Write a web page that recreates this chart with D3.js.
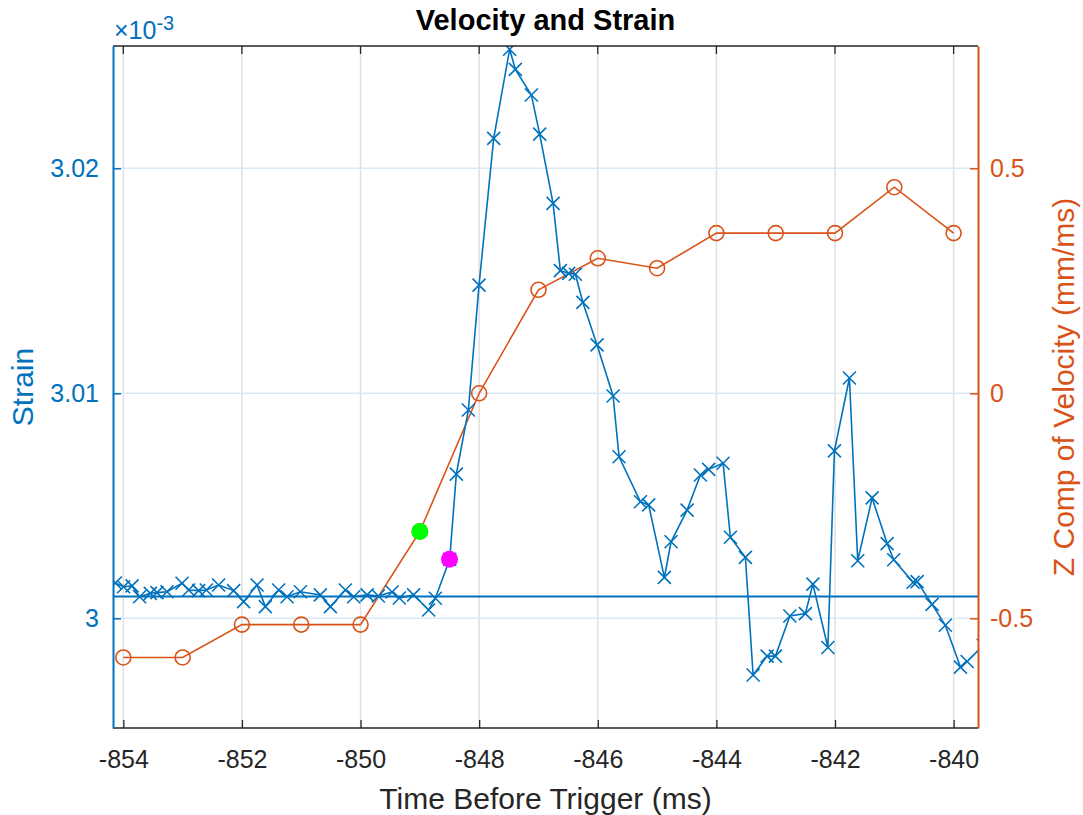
<!DOCTYPE html>
<html>
<head>
<meta charset="utf-8">
<script src="https://cdn.jsdelivr.net/npm/d3@7"></script>
<style>
  body { margin: 0; background: #fff; }
  text { font-family: "Liberation Sans", Arial, sans-serif; }
</style>
</head>
<body>
<script>
let w = 1083;
let h = 815;
let margin = { top: 46, right: 105, bottom: 87, left: 113 };

// strain samples (time in ms, strain in units of 1e-3)
let strainTime = [
  -854.135, -853.995, -853.853, -853.725, -853.545, -853.432, -853.263, -853.010,
  -852.899, -852.730, -852.600, -852.393, -852.140, -851.971, -851.745, -851.605,
  -851.381, -851.239, -851.015, -850.678, -850.509, -850.256, -850.116, -849.890,
  -849.700, -849.469, -849.346, -849.105, -848.852, -848.739, -848.497, -848.385,
  -848.182, -848.002, -847.755, -847.486, -847.390, -847.120, -846.980, -846.754,
  -846.631, -846.491, -846.378, -846.251, -846.012, -845.742, -845.641, -845.281,
  -845.142, -844.877, -844.764, -844.494, -844.270, -844.130, -843.887, -843.764,
  -843.511, -843.381, -843.145, -843.005, -842.761, -842.499, -842.373, -842.120,
  -842.010, -841.757, -841.617, -841.374, -841.121, -841.010, -840.683, -840.616,
  -840.363, -840.139, -839.885, -839.772, -839.500
];
let strainValue = [
  3.00157, 3.00140, 3.00144, 3.00096, 3.00111, 3.00114, 3.00118, 3.00156,
  3.00126, 3.00123, 3.00126, 3.00148, 3.00123, 3.00074, 3.00148, 3.00052,
  3.00126, 3.00096, 3.00118, 3.00104, 3.00052, 3.00126, 3.00096, 3.00104,
  3.00099, 3.00117, 3.00090, 3.00104, 3.00037, 3.00089, 3.00262, 3.00641,
  3.00926, 3.01481, 3.02133, 3.02529, 3.02440, 3.02326, 3.02152, 3.01844,
  3.01545, 3.01533, 3.01529, 3.01404, 3.01215, 3.00988, 3.00718, 3.00518,
  3.00504, 3.00182, 3.00340, 3.00481, 3.00637, 3.00662, 3.00689, 3.00360,
  3.00271, 2.99748, 2.99832, 2.99832, 3.00010, 3.00021, 3.00152, 2.99870,
  3.00744, 3.01068, 3.00256, 3.00535, 3.00332, 3.00260, 3.00160, 3.00163,
  3.00062, 2.99969, 2.99783, 2.99808, 2.99880
];

// velocity samples (mm/ms)
let velTime = [-854, -853, -852, -851, -850, -849, -848, -847, -846, -845, -844, -843, -842, -841, -840];
let velValue = [-0.587, -0.587, -0.514, -0.514, -0.514, -0.307, 0.0, 0.23, 0.30, 0.278, 0.356, 0.356, 0.356, 0.458, 0.356];

let baseline = 3.00097;
let greenPoint = { t: -849.0, v: -0.307 };
let magentaPoint = { t: -848.5, s: 3.00262 };

let xTicks = [-854, -852, -850, -848, -846, -844, -842, -840];
let yLeftTicks = [3.00, 3.01, 3.02];
let yRightTicks = [-0.5, 0, 0.5];

let blue = "#0072BD";
let orange = "#D95319";
let dark = "#262626";

let x0 = margin.left, x1 = w - margin.right;
let y0 = margin.top, y1 = h - margin.bottom;

let xScale = d3.scaleLinear().domain([-854.174, -839.589]).range([x0, x1]);
let yLeft = d3.scaleLinear().domain([2.995124, 3.025436]).range([y1, y0]);
let yRight = d3.scaleLinear().domain([-0.7438, 0.7718]).range([y1, y0]);

let svg = d3.select("body").append("svg")
  .attr("width", w)
  .attr("height", h);

svg.append("defs").append("clipPath").attr("id", "clip")
  .append("rect")
  .attr("x", x0).attr("y", y0)
  .attr("width", x1 - x0).attr("height", y1 - y0);

// grid
svg.append("g").selectAll("line")
  .data(xTicks).enter().append("line")
  .attr("x1", d => xScale(d)).attr("x2", d => xScale(d))
  .attr("y1", y0).attr("y2", y1)
  .attr("stroke", "#e0e0e0").attr("stroke-width", 1.5);

svg.append("g").selectAll("line")
  .data(yLeftTicks).enter().append("line")
  .attr("x1", x0).attr("x2", x1)
  .attr("y1", d => yLeft(d)).attr("y2", d => yLeft(d))
  .attr("stroke", "#d9e9f5").attr("stroke-width", 1.5);

let plot = svg.append("g").attr("clip-path", "url(#clip)");

// velocity line + circles
let velData = velTime.map((t, i) => ({ t: t, v: velValue[i] }));
plot.append("path")
  .datum(velData)
  .attr("fill", "none")
  .attr("stroke", orange)
  .attr("stroke-width", 1.6)
  .attr("d", d3.line().x(d => xScale(d.t)).y(d => yRight(d.v)));

plot.selectAll("circle.vel")
  .data(velData).enter().append("circle")
  .attr("class", "vel")
  .attr("cx", d => xScale(d.t))
  .attr("cy", d => yRight(d.v))
  .attr("r", 7.5)
  .attr("fill", "none")
  .attr("stroke", orange)
  .attr("stroke-width", 1.6);

// strain baseline
plot.append("line")
  .attr("x1", x0).attr("x2", x1)
  .attr("y1", yLeft(baseline)).attr("y2", yLeft(baseline))
  .attr("stroke", blue).attr("stroke-width", 2);

// strain line + x markers
let strainData = strainTime.map((t, i) => ({ t: t, s: strainValue[i] }));
plot.append("path")
  .datum(strainData)
  .attr("fill", "none")
  .attr("stroke", blue)
  .attr("stroke-width", 1.6)
  .attr("d", d3.line().x(d => xScale(d.t)).y(d => yLeft(d.s)));

let m = 6.5;
plot.selectAll("path.xm")
  .data(strainData).enter().append("path")
  .attr("class", "xm")
  .attr("d", d => {
    let cx = xScale(d.t), cy = yLeft(d.s);
    return "M" + (cx - m) + "," + (cy - m) + "L" + (cx + m) + "," + (cy + m) +
      "M" + (cx - m) + "," + (cy + m) + "L" + (cx + m) + "," + (cy - m);
  })
  .attr("stroke", blue)
  .attr("stroke-width", 1.6)
  .attr("fill", "none");

// highlighted points
plot.append("circle")
  .attr("cx", xScale(greenPoint.t)).attr("cy", yRight(greenPoint.v))
  .attr("r", 8.5).attr("fill", "#00ff00");

plot.append("circle")
  .attr("cx", xScale(magentaPoint.t)).attr("cy", yLeft(magentaPoint.s))
  .attr("r", 8.5).attr("fill", "#ff00ff");

// frame top/bottom
svg.append("line").attr("x1", x0).attr("x2", x1).attr("y1", y0).attr("y2", y0)
  .attr("stroke", dark).attr("stroke-width", 1.3);
svg.append("line").attr("x1", x0).attr("x2", x1).attr("y1", y1).attr("y2", y1)
  .attr("stroke", dark).attr("stroke-width", 1.3);

// x axis
let xAxis = d3.axisBottom(xScale).tickValues(xTicks).tickSizeInner(-8).tickSizeOuter(0).tickPadding(22);
let gx = svg.append("g")
  .attr("transform", "translate(0," + y1 + ")")
  .call(xAxis);
gx.select(".domain").remove();
gx.selectAll(".tick line").attr("stroke", dark).attr("stroke-width", 1.3);
gx.selectAll(".tick text").attr("fill", dark).style("font-size", "25px")
  .text(d => d3.format("d")(d).replace("−", "-"));

// top ticks
svg.append("g").selectAll("line")
  .data(xTicks).enter().append("line")
  .attr("x1", d => xScale(d)).attr("x2", d => xScale(d))
  .attr("y1", y0).attr("y2", y0 + 8)
  .attr("stroke", dark).attr("stroke-width", 1.3);

// left axis
let yAxisL = d3.axisLeft(yLeft).tickValues(yLeftTicks).tickSizeInner(-8).tickSizeOuter(0)
  .tickPadding(14).tickFormat(d => d === 3 ? "3" : d3.format(".2f")(d));
let gl = svg.append("g")
  .attr("transform", "translate(" + x0 + ",0)")
  .call(yAxisL);
gl.select(".domain").attr("stroke", blue).attr("stroke-width", 2);
gl.selectAll(".tick line").attr("stroke", blue).attr("stroke-width", 1.5);
gl.selectAll(".tick text").attr("fill", blue).style("font-size", "25px");

// right axis
let yAxisR = d3.axisRight(yRight).tickValues(yRightTicks).tickSizeInner(-8).tickSizeOuter(0)
  .tickPadding(12).tickFormat(d => String(d).replace("−", "-"));
let gr = svg.append("g")
  .attr("transform", "translate(" + x1 + ",0)")
  .call(yAxisR);
gr.select(".domain").attr("stroke", orange).attr("stroke-width", 2);
gr.selectAll(".tick line").attr("stroke", orange).attr("stroke-width", 1.5);
gr.selectAll(".tick text").attr("fill", orange).style("font-size", "25px");

// exponent
let ex = svg.append("text")
  .attr("x", x0 + 1)
  .attr("y", 39)
  .attr("fill", blue)
  .style("font-size", "25px");
ex.append("tspan").text("×10");
ex.append("tspan").attr("dy", -9).style("font-size", "20px").text("-3");

// title
svg.append("text")
  .attr("x", (x0 + x1) / 2)
  .attr("y", 30)
  .attr("text-anchor", "middle")
  .attr("fill", "#000")
  .style("font-size", "29px")
  .style("font-weight", "bold")
  .text("Velocity and Strain");

// axis labels
svg.append("text")
  .attr("x", (x0 + x1) / 2)
  .attr("y", 809)
  .attr("text-anchor", "middle")
  .attr("fill", dark)
  .style("font-size", "30px")
  .text("Time Before Trigger (ms)");

svg.append("text")
  .attr("transform", "translate(33," + ((y0 + y1) / 2) + ") rotate(-90)")
  .attr("text-anchor", "middle")
  .attr("fill", blue)
  .style("font-size", "30px")
  .text("Strain");

svg.append("text")
  .attr("transform", "translate(1074," + ((y0 + y1) / 2) + ") rotate(-90)")
  .attr("text-anchor", "middle")
  .attr("fill", orange)
  .style("font-size", "30px")
  .text("Z Comp of Velocity (mm/ms)");
</script>
</body>
</html>
